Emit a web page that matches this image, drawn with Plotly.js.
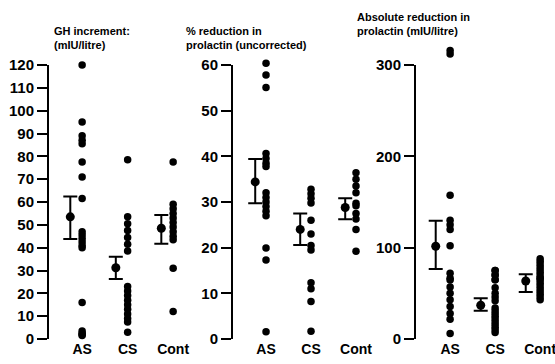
<!DOCTYPE html>
<html>
<head>
<meta charset="utf-8">
<script src="https://cdn.plot.ly/plotly-3.0.1.min.js"></script>
<style>html,body{margin:0;padding:0;background:#fff}#chart{width:555px;height:364px}</style>
</head>
<body>
<div id="chart"></div>
<script>
const categories = ['AS', 'CS', 'Cont'];

// Panel 1: GH increment (mIU/litre)
const ghAS   = [120, 95, 89, 87, 85.5, 77.5, 71, 61.5, 47, 45.5, 44, 42.5, 41, 40, 16, 3.5, 2.5, 2, 1.5];
const ghCS   = [78.5, 53.5, 50.5, 47.5, 44.5, 41.5, 38.5, 23, 21, 19, 17, 15, 13, 11, 9, 7.5, 3];
const ghCont = [77.5, 59, 57, 55, 53, 51, 49, 47, 45, 43.5, 31, 12];
const ghMean  = [53.5, 31.2, 48.5];
const ghUpper = [62.4, 36, 54.3];
const ghLower = [43.8, 26.3, 41.7];

// Panel 2: % reduction in prolactin (uncorrected)
const pctAS   = [60.4, 57.8, 55.1, 40.6, 39.5, 38.5, 37.8, 32, 31, 30, 29, 28, 27, 19.9, 17.3, 1.6];
const pctCS   = [32.8, 31.8, 30.8, 29.8, 26, 23, 20.5, 19.5, 12.3, 11, 8.2, 1.7];
const pctCont = [36.4, 35, 33.5, 32, 29.7, 29.2, 27.5, 26.3, 24, 19.2];
const pctMean  = [34.4, 24, 28.8];
const pctUpper = [39.4, 27.5, 30.8];
const pctLower = [29.7, 20.6, 26.2];

// Panel 3: Absolute reduction in prolactin (mIU/litre)
const absAS   = [316, 312, 157.5, 130, 125, 120, 102, 72, 66.5, 64.5, 57, 50, 43, 35.5, 28, 21.5, 6];
const absCS   = [75, 75, 70, 70, 65, 65, 56, 50, 46, 42, 34, 31, 28, 25, 22, 19, 16, 13, 10, 7];
const absCont = [88, 85, 82, 79, 76, 73, 70, 67, 66.5, 64, 61, 58, 55, 52, 49, 46, 43];
const absMean  = [101.5, 37, 63.5];
const absUpper = [129.6, 44.5, 71];
const absLower = [76.6, 31, 51.5];

const titles = ['GH increment:<br>(mIU/litre)',
                '% reduction in<br>prolactin (uncorrected)',
                'Absolute reduction in<br>prolactin (mIU/litre)'];

// axis line drawn from 0 up to the top tick value
const axisTop = [120, 60, 300];

const panels = [
  {groups: [ghAS, ghCS, ghCont], mean: ghMean, up: ghUpper, lo: ghLower, off: -0.26},
  {groups: [pctAS, pctCS, pctCont], mean: pctMean, up: pctUpper, lo: pctLower, off: -0.24},
  {groups: [absAS, absCS, absCont], mean: absMean, up: absUpper, lo: absLower, off: -0.32}
];

const traces = [];
panels.forEach((p, pi) => {
  const xa = pi === 0 ? 'x' : 'x' + (pi + 1);
  const ya = pi === 0 ? 'y' : 'y' + (pi + 1);
  p.groups.forEach((vals, ci) => {
    traces.push({
      type: 'scatter', mode: 'markers', xaxis: xa, yaxis: ya,
      x: vals.map(() => ci + 1), y: vals,
      marker: {color: '#000', size: 7.5},
      cliponaxis: false, showlegend: false, hoverinfo: 'y'
    });
  });
  traces.push({
    type: 'scatter', mode: 'markers', xaxis: xa, yaxis: ya,
    x: categories.map((c, ci) => ci + 1 + p.off), y: p.mean,
    marker: {color: '#000', size: 9},
    error_y: {type: 'data', symmetric: false,
              array: p.up.map((u, i) => u - p.mean[i]),
              arrayminus: p.lo.map((l, i) => p.mean[i] - l),
              color: '#000', thickness: 2, width: 7},
    cliponaxis: false, showlegend: false, hoverinfo: 'y'
  });
});

const fam = 'Liberation Sans, Arial, sans-serif';
const yfont = {family: fam, size: 15, color: '#000', weight: 'bold'};
const xfont = {family: fam, size: 14, color: '#000', weight: 'bold'};
const y0px = 339, axisLenPx = 274, H = 364;
function yax(range, dtick, anchor, topVal) {
  const pxPerUnit = axisLenPx / topVal;
  const topPx = y0px - range[1] * pxPerUnit;
  return {range: range, dtick: dtick, domain: [(H - y0px) / H, (H - topPx) / H], anchor: anchor,
    showline: false, ticks: 'outside', ticklen: 10,
    tickwidth: 2, tickcolor: '#000', showgrid: false, zeroline: false,
    tickfont: yfont, fixedrange: true};
}
function xax(domain, range, anchor) {
  return {domain: domain, range: range, anchor: anchor, tickvals: [1, 2, 3],
    ticktext: categories, showline: false, ticks: '', showgrid: false, zeroline: false,
    tickfont: xfont, ticklabeloverflow: 'allow', fixedrange: true};
}

const shapes = axisTop.map((top, i) => {
  const s = i === 0 ? '' : String(i + 1);
  return {type: 'line', xref: 'x' + s + ' domain', yref: 'y' + s,
    x0: 0, x1: 0, y0: 0, y1: top, line: {color: '#000', width: 2}};
});

const layout = {
  width: 555, height: 364,
  margin: {l: 0, r: 0, t: 0, b: 0},
  paper_bgcolor: '#fff', plot_bgcolor: '#fff',
  font: {family: fam, size: 14, color: '#000'},
  showlegend: false,
  xaxis:  xax([48 / 555, 195 / 555], [0.25, 3.48], 'y'),
  yaxis:  yax([0, 120], 10, 'x', axisTop[0]),
  xaxis2: xax([232 / 555, 374 / 555], [0.244, 3.4], 'y2'),
  yaxis2: yax([0, 61.5], 10, 'x2', axisTop[1]),
  xaxis3: xax([415 / 555, 1], [0.22, 3.33], 'y3'),
  yaxis3: yax([0, 322], 100, 'x3', axisTop[2]),
  shapes: shapes,
  annotations: [
    {text: '<b>' + titles[0] + '</b>', x: 52 / 555, y: 1 - 38 / 364},
    {text: '<b>' + titles[1] + '</b>', x: 184 / 555, y: 1 - 38 / 364},
    {text: '<b>' + titles[2] + '</b>', x: 355 / 555, y: 1 - 24 / 364}
  ].map(a => Object.assign(a, {xref: 'paper', yref: 'paper', xanchor: 'left', yanchor: 'middle',
      align: 'left', showarrow: false,
      font: {family: fam, size: 11, color: '#000'}}))
};

Plotly.newPlot('chart', traces, layout, {displayModeBar: false, staticPlot: true});
</script>
</body>
</html>
